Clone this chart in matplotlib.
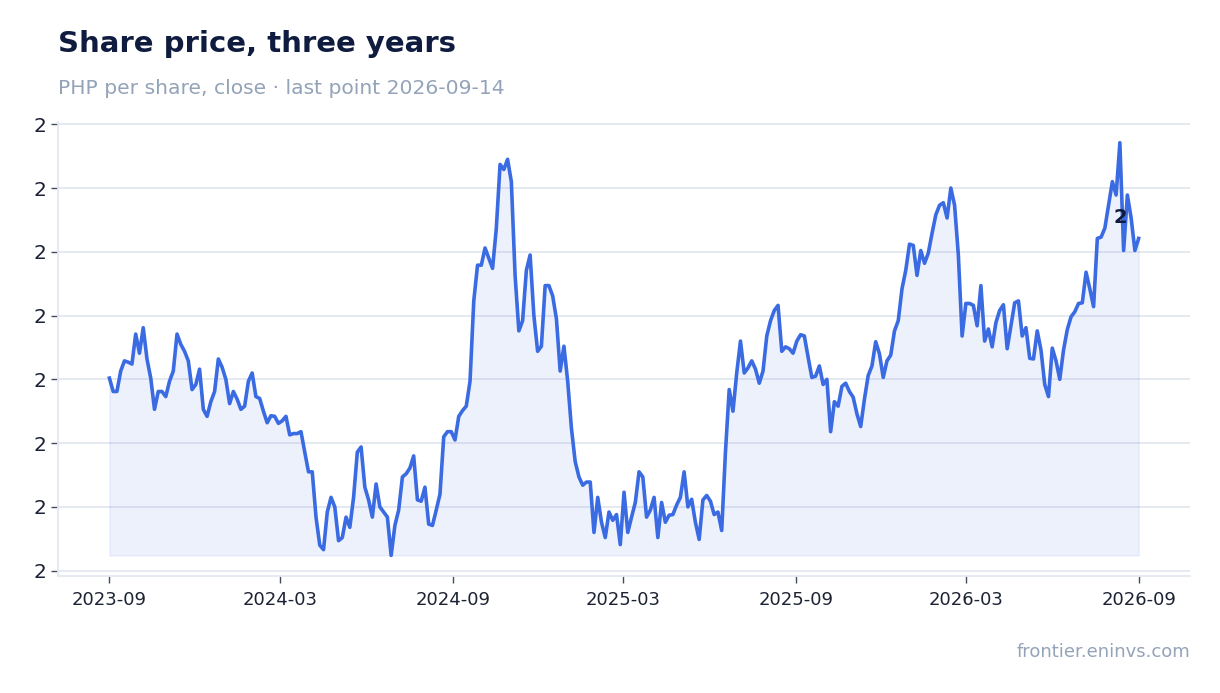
import matplotlib
matplotlib.use("Agg")
import matplotlib.pyplot as plt
import matplotlib.dates as mdates
from matplotlib.ticker import FuncFormatter
import numpy as np
import pandas as pd

# closing price, sampled every 4 days from 2023-09-14 to 2026-09-14
start_date = "2023-09-14"
end_date = "2026-09-14"
close_2023_2024 = [
    1.902, 1.881, 1.881, 1.913, 1.929, 1.927, 1.924, 1.971, 1.941, 1.981,
    1.932, 1.902, 1.853, 1.881, 1.881, 1.873, 1.897, 1.913, 1.971, 1.955,
    1.944, 1.929, 1.884, 1.892, 1.916, 1.853, 1.842, 1.865, 1.881, 1.932,
    1.919, 1.900, 1.862, 1.881, 1.869, 1.853, 1.858, 1.897, 1.910, 1.873,
    1.870, 1.850, 1.832, 1.843, 1.842, 1.831, 1.835, 1.842, 1.813, 1.815,
    1.815, 1.818, 1.786, 1.755, 1.755, 1.684, 1.640, 1.633, 1.692, 1.715,
    1.700, 1.647, 1.652, 1.684, 1.668, 1.715, 1.786, 1.794, 1.731, 1.711,
    1.684, 1.736, 1.700, 1.692, 1.684, 1.624, 1.671, 1.695, 1.747, 1.752,
    1.761, 1.780, 1.711, 1.709, 1.731, 1.673, 1.671, 1.695, 1.720, 1.810,
    1.818, 1.818, 1.805, 1.842, 1.851, 1.858, 1.897, 2.023, 2.079, 2.079,
]
close_2024_2025 = [
    2.106, 2.090, 2.074, 2.137, 2.237, 2.229, 2.245, 2.210, 2.063, 1.976,
    1.992, 2.071, 2.095, 2.000, 1.944, 1.952, 2.047, 2.047, 2.031, 1.995,
    1.913, 1.952, 1.897, 1.823, 1.771, 1.747, 1.734, 1.739, 1.739, 1.660,
    1.715, 1.676, 1.652, 1.692, 1.679, 1.688, 1.641, 1.723, 1.660, 1.684,
    1.707, 1.755, 1.747, 1.684, 1.695, 1.715, 1.652, 1.707, 1.676, 1.687,
    1.688, 1.703, 1.715, 1.755, 1.700, 1.712, 1.676, 1.649, 1.711, 1.718,
    1.709, 1.688, 1.692, 1.663, 1.786, 1.884, 1.850, 1.910, 1.960, 1.910,
    1.918, 1.929, 1.916, 1.894, 1.913, 1.968, 1.992, 2.008, 2.016, 1.944,
    1.951, 1.948, 1.941, 1.960, 1.970, 1.968, 1.935, 1.903, 1.905, 1.921,
]
close_2025_2026 = [
    1.892, 1.900, 1.818, 1.865, 1.858, 1.889, 1.894, 1.881, 1.872, 1.846,
    1.826, 1.869, 1.906, 1.921, 1.959, 1.940, 1.903, 1.929, 1.938, 1.976,
    1.992, 2.042, 2.071, 2.112, 2.110, 2.063, 2.102, 2.082, 2.098, 2.129,
    2.158, 2.173, 2.177, 2.153, 2.200, 2.173, 2.095, 1.968, 2.019, 2.019,
    2.016, 1.984, 2.047, 1.960, 1.979, 1.951, 1.989, 2.008, 2.017, 1.948,
    1.984, 2.020, 2.023, 1.968, 1.981, 1.933, 1.932, 1.976, 1.946, 1.892,
    1.873, 1.949, 1.929, 1.900, 1.946, 1.978, 1.998, 2.006, 2.019, 2.020,
    2.068, 2.042, 2.014, 2.121, 2.123, 2.137, 2.173, 2.210, 2.189, 2.271,
    2.102, 2.189, 2.153, 2.102, 2.121,
]
y_ticks = [1.6, 1.7, 1.8, 1.9, 2.0, 2.1, 2.2, 2.3]
title = "Share price, three years"
subtitle = "PHP per share, close · last point 2026-09-14"
source = "frontier.eninvs.com"

LINE = "#3a6be2"
NAVY = "#0f1c3f"
MUTED = "#94a3b8"
GRID = "#e3e7ef"


def main() -> None:
    close = np.array(close_2023_2024 + close_2024_2025 + close_2025_2026)
    dates = pd.date_range(start_date, end_date, freq="4D")

    fig = plt.figure(figsize=(12.2, 6.93), dpi=100)
    ax = fig.add_axes([0.0475, 0.1688, 0.928, 0.655])

    ax.fill_between(dates, close, close.min(), color=LINE, alpha=0.09, linewidth=1)
    ax.plot(dates, close, color=LINE, linewidth=2.6, solid_joinstyle="round")

    ax.set_yticks(y_ticks)
    ax.yaxis.set_major_formatter(FuncFormatter(lambda v, _: f"{v:.0f}"))
    ax.set_xticks(pd.date_range(start_date, periods=7, freq=pd.DateOffset(months=6)))
    ax.xaxis.set_major_formatter(mdates.DateFormatter("%Y-%m"))

    ax.grid(axis="y", color=GRID, linewidth=1.3)
    ax.set_axisbelow(True)
    for side in ("top", "right"):
        ax.spines[side].set_visible(False)
    for side in ("left", "bottom"):
        ax.spines[side].set_color(GRID)
        ax.spines[side].set_linewidth(1.3)
    ax.tick_params(axis="y", labelsize=14.5, colors="#444c5c", labelcolor="#1c2233", length=5, width=1)
    ax.tick_params(axis="x", labelsize=13, colors="#444c5c", labelcolor="#1c2233", length=5, width=1, pad=6)

    ax.annotate(
        f"{close[-1]:.0f}",
        xy=(dates[-1], close[-1]),
        xytext=(-13, 15),
        textcoords="offset points",
        ha="center",
        va="center",
        fontsize=14,
        fontweight="bold",
        color=NAVY,
    )

    fig.text(0.0475, 0.937, title, fontsize=21, fontweight="bold", color=NAVY, va="center")
    fig.text(0.0475, 0.873, subtitle, fontsize=14.6, color=MUTED, va="center")
    fig.text(0.9754, 0.059, source, fontsize=13, color=MUTED, ha="right", va="center")

    fig.savefig("out.png", dpi=100)


if __name__ == "__main__":
    main()
